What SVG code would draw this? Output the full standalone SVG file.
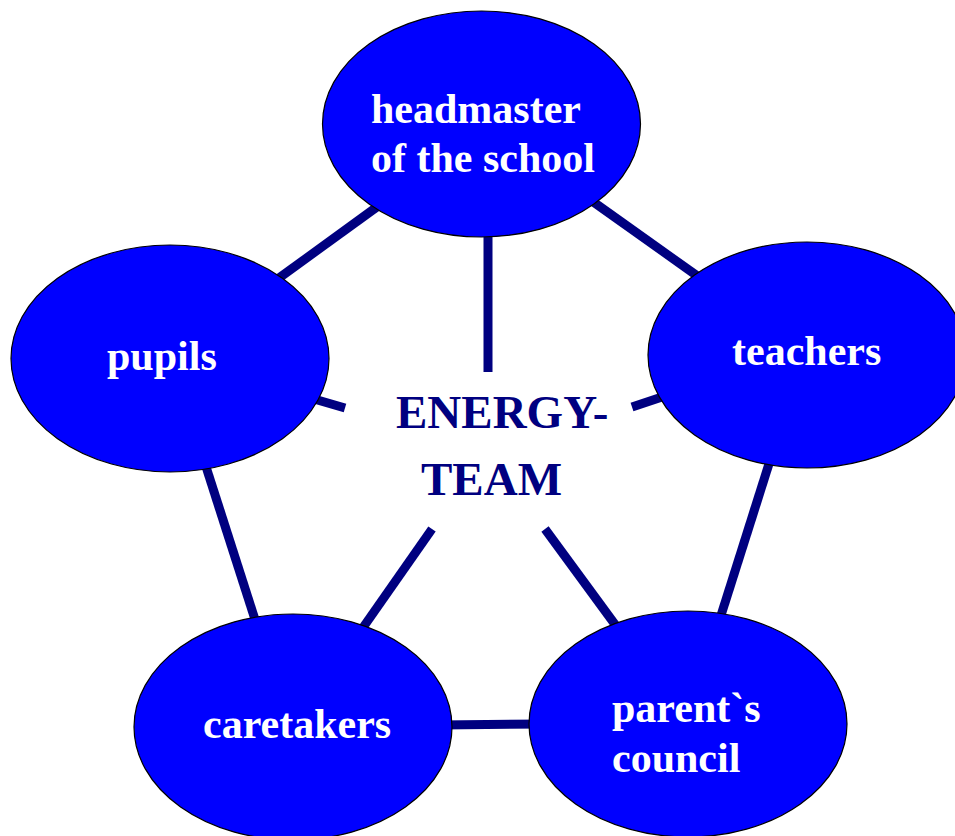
<svg xmlns="http://www.w3.org/2000/svg" width="955" height="836" viewBox="0 0 955 836">
<style>
.node{fill:#0000ff;stroke:#000;stroke-width:1.2}
.lbl{font-family:"Liberation Serif","Times New Roman",serif;font-weight:bold;font-size:42px;fill:#fff}
.ctr{font-family:"Liberation Serif","Times New Roman",serif;font-weight:bold;font-size:47px;fill:#000080}
.conn line{stroke:#000080;stroke-width:9;stroke-linecap:butt}
</style>
<rect width="955" height="836" fill="#fff"/>
<g id="connectors" class="conn">
<line x1="488" y1="220" x2="488" y2="372"/>
<line x1="392" y1="196" x2="268" y2="286"/>
<line x1="585" y1="196" x2="703" y2="280"/>
<line x1="290" y1="392" x2="345" y2="408"/>
<line x1="632" y1="407" x2="692" y2="387"/>
<line x1="200" y1="448" x2="259" y2="632"/>
<line x1="774" y1="448" x2="717" y2="628"/>
<line x1="432" y1="529" x2="355" y2="639"/>
<line x1="545" y1="529" x2="622" y2="634"/>
<line x1="440" y1="725" x2="545" y2="724"/>
</g>
<g id="headmaster">
<ellipse class="node" cx="481.5" cy="124" rx="159" ry="113"/>
<text class="lbl" x="371" y="123">headmaster</text>
<text class="lbl" x="371" y="172">of the school</text>
</g>
<g id="pupils">
<ellipse class="node" cx="170" cy="358.5" rx="159" ry="113.5"/>
<text class="lbl" x="107" y="370">pupils</text>
</g>
<g id="teachers">
<ellipse class="node" cx="807" cy="355" rx="159" ry="113"/>
<text class="lbl" x="732" y="365">teachers</text>
</g>
<g id="caretakers">
<ellipse class="node" cx="293" cy="727" rx="159" ry="113"/>
<text class="lbl" x="203" y="738">caretakers</text>
</g>
<g id="parents">
<ellipse class="node" cx="688" cy="724" rx="159" ry="113"/>
<text class="lbl" x="612" y="722">parent`s</text>
<text class="lbl" x="612" y="772">council</text>
</g>
<g id="energy-team">
<text class="ctr" x="396" y="428">ENERGY-</text>
<text class="ctr" x="421" y="495">TEAM</text>
</g>
</svg>
